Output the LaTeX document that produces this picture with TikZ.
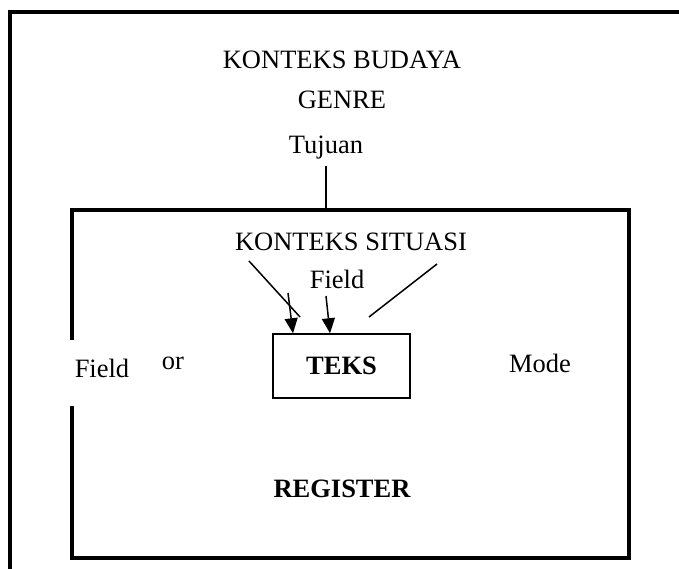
\documentclass[tikz,border=0pt]{standalone}
\usepackage{fontspec}
\setmainfont{Liberation Serif}
\usetikzlibrary{arrows.meta}
\begin{document}
\begin{tikzpicture}[x=1pt,y=-1pt,
  lbl/.style={inner sep=0pt,font=\fontsize{26.5}{30}\selectfont},
  blbl/.style={inner sep=0pt,font=\fontsize{26.5}{30}\selectfont\bfseries},
  frame/.style={line width=4pt},
  thin/.style={line width=1.5pt},
  arr/.style={line width=1.5pt,-{Triangle[length=15pt,width=13pt]}}]
\useasboundingbox (0,0) rectangle (679,569);
% outer frame
\draw[frame] (10,569) -- (10,12) -- (679,12);
% inner frame
\draw[frame] (72,340) -- (72,210) -- (629,210) -- (629,558) -- (72,558) -- (72,406);
% texts
\node[lbl] (kb) at (342,60) {KONTEKS BUDAYA};
\node[lbl] (genre) at (342,100) {GENRE};
\node[lbl] (tujuan) at (326,148) {Tujuan};
\node[lbl] (ks) at (351,242) {KONTEKS SITUASI};
\node[lbl] (field) at (337,279) {Field};
\node[lbl] (fieldl) at (102,368) {Field};
\node[lbl] (or) at (173,363) {or};
\node[lbl] (mode) at (540,363) {Mode};
\node[draw,thin,minimum width=137pt,minimum height=64pt,inner sep=0pt] (teks) at (341.5,366) {};
\node[blbl] at (teks.center) {TEKS};
\node[blbl] (reg) at (342,489) {REGISTER};
% connectors
\coordinate (tjb) at (326,210);
\draw[thin] (326,166) -- (tjb);
\coordinate (d1a) at (249,261);
\coordinate (d1b) at (300,317);
\draw[thin] (d1a) -- (d1b);
\coordinate (d2a) at (437,264);
\coordinate (d2b) at (369,317);
\draw[thin] (d2a) -- (d2b);
\coordinate (a1) at (288,293);
\draw[arr] (a1) -- (teks.north west -| 293,0);
\coordinate (a2) at (326,296);
\draw[arr] (a2) -- (teks.north west -| 330,0);
\end{tikzpicture}
\end{document}
